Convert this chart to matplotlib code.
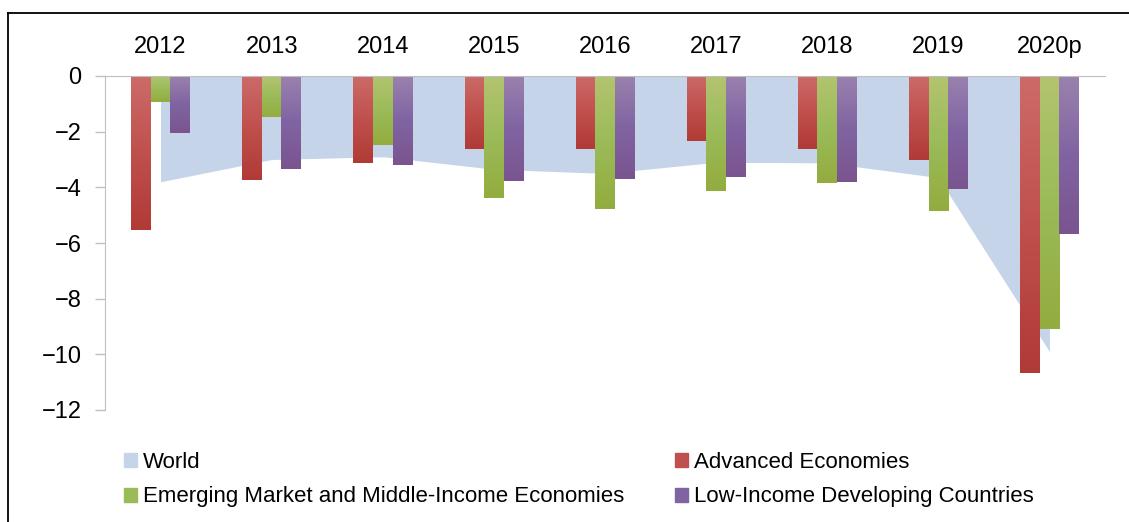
import numpy as np
import matplotlib
matplotlib.use('Agg')
import matplotlib.pyplot as plt
from matplotlib.patches import Patch
from matplotlib.lines import Line2D
from matplotlib.colors import LinearSegmentedColormap

plt.rcParams['font.family'] = ['Liberation Sans', 'DejaVu Sans']

years = ['2012', '2013', '2014', '2015', '2016', '2017', '2018', '2019', '2020p']
world = [-3.8, -3.0, -2.9, -3.35, -3.5, -3.1, -3.12, -3.65, -9.9]
advanced = [-5.53, -3.74, -3.13, -2.64, -2.64, -2.34, -2.64, -3.02, -10.68]
emerging = [-0.95, -1.46, -2.47, -4.38, -4.79, -4.13, -3.85, -4.84, -9.09]
low_income = [-2.05, -3.35, -3.2, -3.79, -3.71, -3.63, -3.81, -4.07, -5.67]

series = [
    ('Advanced Economies', advanced, '#C0504D', '#CC6B69', '#B03A36'),
    ('Emerging Market and Middle-Income Economies', emerging, '#9BBB59', '#B3C46F', '#93AC3E'),
    ('Low-Income Developing Countries', low_income, '#8064A2', '#9A82AE', '#7A548F'),
]
world_color = '#C5D4E9'

fig = plt.figure(figsize=(11.29, 5.22), dpi=100, facecolor='white')
ax = fig.add_axes([105/1129, 1 - 410/522, 1000/1129, 334/522])

x = np.arange(len(years))
ax.fill_between(x, world, 0, color=world_color, linewidth=0, zorder=1)

w = 0.176
for i, (name, vals, col, top, bot) in enumerate(series):
    bars = ax.bar(x + (i - 1) * w, vals, width=w, color=col, edgecolor='none', zorder=2)
    cmap = LinearSegmentedColormap.from_list(name, [top, col, bot])
    grad = np.linspace(0, 1, 256).reshape(-1, 1)
    for b in bars:
        x0 = b.get_x()
        x1 = x0 + b.get_width()
        h = b.get_height()
        im = ax.imshow(grad, cmap=cmap, extent=[x0, x1, h, 0], aspect='auto',
                       origin='upper', zorder=3, interpolation='bilinear')
        im.set_clip_path(b)

ax.set_xlim(-0.5, len(years) - 0.5)
ax.set_ylim(-12, 0)
ax.set_yticks(np.arange(-12, 1, 2))
ax.set_xticks(x)
ax.set_xticklabels(years)
ax.tick_params(axis='x', top=True, labeltop=True, bottom=False, labelbottom=False,
               length=0, pad=13, labelsize=17)
ax.tick_params(axis='y', length=7, color='#BFBFBF', width=1, pad=10, labelsize=17)

for s in ['right', 'bottom']:
    ax.spines[s].set_visible(False)
ax.spines['left'].set_color('#BFBFBF')
ax.spines['top'].set_color('#BFBFBF')
ax.spines['top'].set_zorder(4)

# outer frame: left and top edges only
fig.add_artist(Line2D([8/1129, 8/1129], [0, 1 - 12.5/522], transform=fig.transFigure,
                      color='black', linewidth=1.3))
fig.add_artist(Line2D([8/1129, 1], [1 - 12.5/522, 1 - 12.5/522], transform=fig.transFigure,
                      color='black', linewidth=1.3))

handles = [Patch(color=world_color), Patch(color='#9BBB59'),
           Patch(color='#C0504D'), Patch(color='#8064A2')]
labels = ['World', 'Emerging Market and Middle-Income Economies',
          'Advanced Economies', 'Low-Income Developing Countries']
fig.legend(handles, labels, ncol=2, loc='upper left',
           bbox_to_anchor=(117/1129, 1 - 445/522), frameon=False, fontsize=16,
           handlelength=0.6, handleheight=0.6, handletextpad=0.25,
           columnspacing=2.3, labelspacing=0.62, borderaxespad=0, borderpad=0.3)

fig.savefig('out.png', dpi=100, facecolor='white')
